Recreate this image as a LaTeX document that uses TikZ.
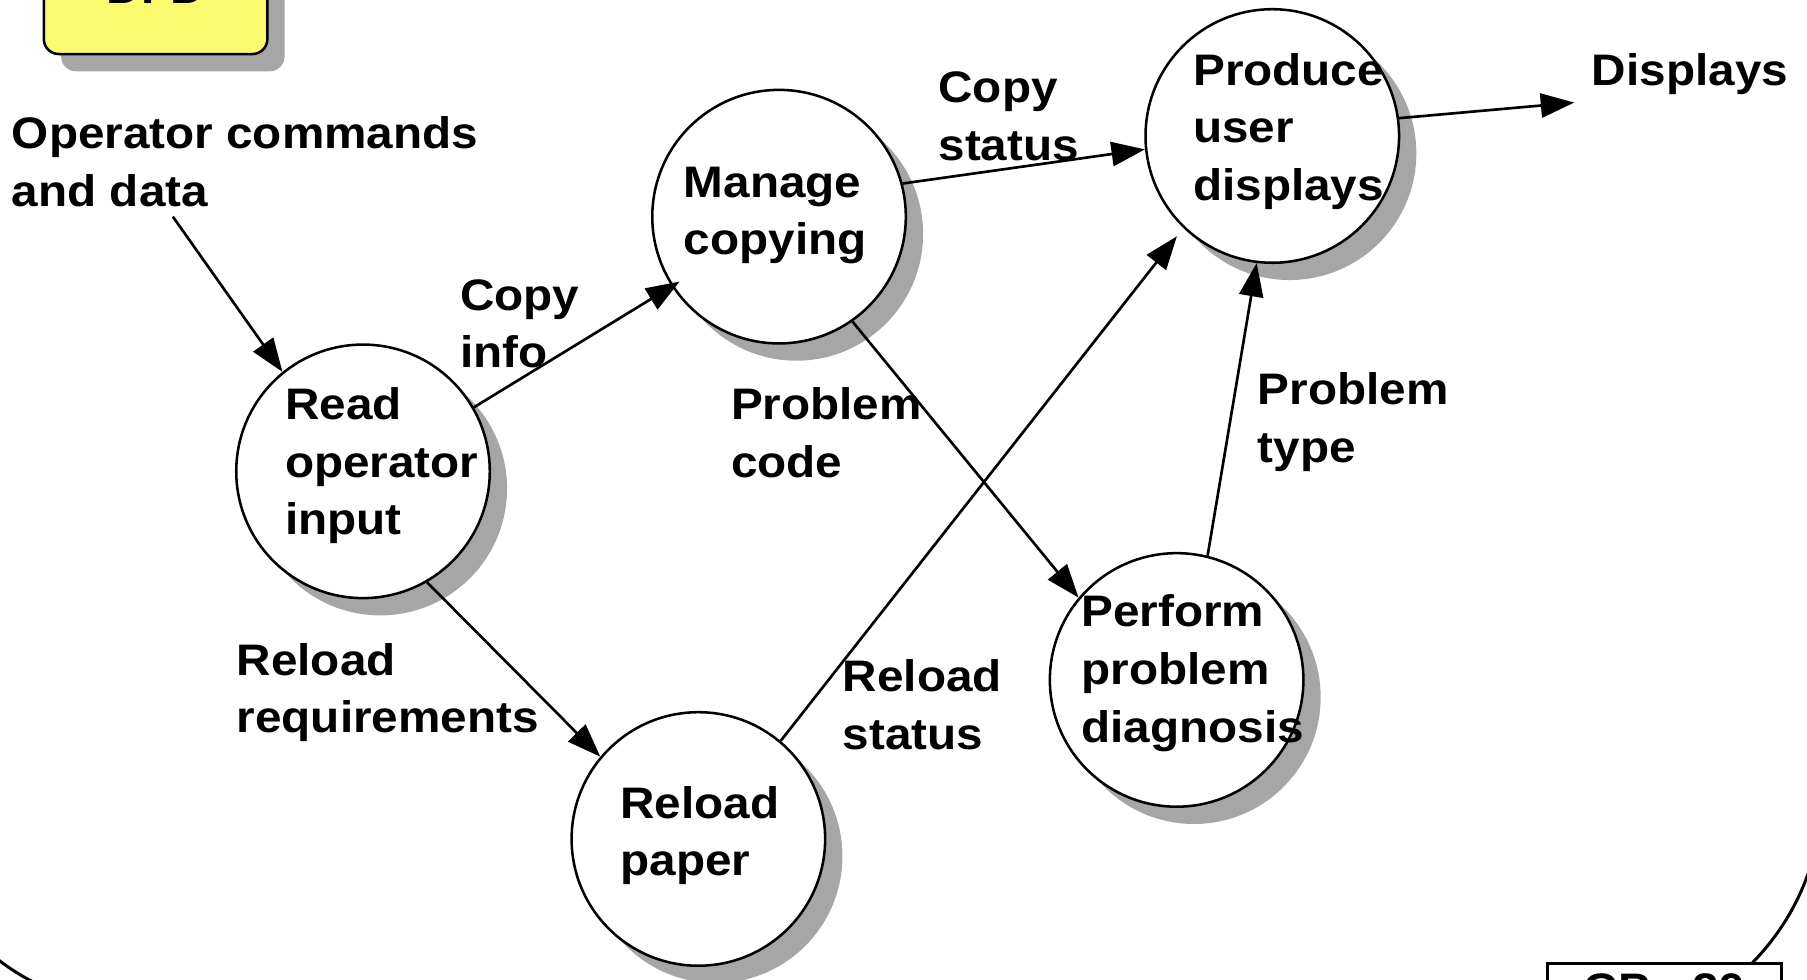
\documentclass[tikz,border=0pt]{standalone}
\usepackage{fontspec}
\setmainfont{Liberation Sans}[FakeStretch=1.08]
\usetikzlibrary{arrows.meta,shadows}
\definecolor{shgray}{RGB}{166,166,166}
\definecolor{dfdyellow}{RGB}{250,250,110}
\newcommand{\twolines}[2]{\vtop{\hbox{#1}\hbox{#2}}}
\newcommand{\threelines}[3]{\vtop{\hbox{#1}\hbox{#2}\hbox{#3}}}
\begin{document}
\begin{tikzpicture}[x=0.5pt,y=-0.5pt,
  proc/.style={circle, draw, line width=1.1pt, fill=white, minimum size=110pt, inner sep=0pt,
    general shadow={fill=shgray, shadow xshift=7.5pt, shadow yshift=-7.5pt}},
  lbl/.style={anchor=base west, inner sep=0pt, font=\bfseries\fontsize{19.15}{25}\selectfont},
  flow/.style={line width=1.15pt, -{Triangle[length=14.5pt,width=10.5pt]}},
  framearc/.style={line width=1.3pt}]
\useasboundingbox (0,0) rectangle (1568,850);
\clip (0,0) rectangle (1568,850);

% slide frame corners
\draw[framearc] (126,666) ++(100:210) arc[start angle=100, end angle=150, radius=210];
\draw[framearc] (1371,688) ++(-15:210) arc[start angle=-15, end angle=60, radius=210];

% title box and page box
\node[draw, line width=1.1pt, fill=dfdyellow, rounded corners=6.5pt,
  general shadow={fill=shgray, shadow xshift=7.5pt, shadow yshift=-7.5pt},
  anchor=south, minimum width=97pt, inner xsep=0pt, inner ysep=21.75pt, text depth=0pt,
  font=\bfseries\fontsize{19.15}{25}\selectfont] (dfd) at (135,48) {DFD};
\node[draw, line width=1.3pt, fill=white, anchor=north, minimum width=101.5pt,
  inner xsep=0pt, inner ysep=4.5pt, text depth=20pt,
  font=\bfseries\fontsize{19.15}{25}\selectfont] (pg) at (1444.5,835) {CP - 20};

% processes
\node[proc] (rd)  at (315,409) {};
\node[proc] (mc)  at (676,188) {};
\node[proc] (pud) at (1104,118) {};
\node[proc] (ppd) at (1021,590) {};
\node[proc] (rp)  at (606,728) {};

% free ends
\coordinate (cmdin) at (150,188);
\coordinate (dispout) at (1366,89);

% flows
\draw[flow] (cmdin) -- (rd.129.5);
\draw[flow, shorten >=-4pt] (rd.30) -- (mc.213);
\draw[flow] (mc.15) -- (pud.186);
\draw[flow] (pud.8) -- (dispout);
\draw[flow] (mc.-55) -- (ppd.140);
\draw[flow, shorten >=4.5pt] (rp.50) -- (pud.226);
\draw[flow] (ppd.76) -- (pud.263);
\draw[flow] (rd.-60) -- (rp.140);

% process texts
\node[lbl] (rdt)  at (247,364) {\threelines{Read}{operator}{input}};
\node[lbl] (mct)  at (593,171) {\twolines{Manage}{copying}};
\node[lbl] (pudt) at (1035,74) {\threelines{Produce}{user}{displays}};
\node[lbl] (ppdt) at (938,544) {\threelines{Perform}{problem}{diagnosis}};
\node[lbl] (rpt)  at (538,710) {\twolines{Reload}{paper}};

% flow labels
\node[lbl] (opc)   at (10,129)  {\twolines{Operator commands}{and data}};
\node[lbl] (cinfo) at (399,269) {\twolines{Copy}{info}};
\node[lbl] (cstat) at (814,89)  {\twolines{Copy}{status}};
\node[lbl] (disp)  at (1381,74) {Displays};
\node[lbl] (pcode) at (634,364) {\twolines{Problem}{code}};
\node[lbl] (ptype) at (1091,351) {\twolines{Problem}{type}};
\node[lbl] (rreq)  at (205,586) {\twolines{Reload}{requirements}};
\node[lbl] (rstat) at (731,600) {\twolines{Reload}{status}};
\end{tikzpicture}
\end{document}
